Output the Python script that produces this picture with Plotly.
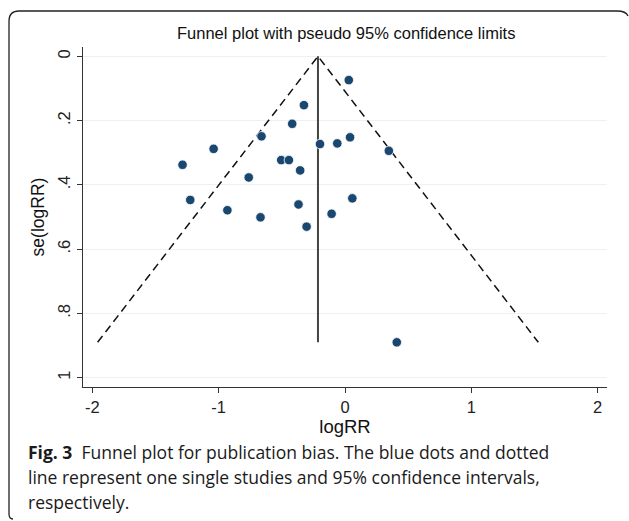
import plotly.graph_objects as go

# Study estimates
log_rr = [0.03, -0.325, -0.418, -0.661, -1.04, -1.286, -0.198, -0.061, 0.04, 0.347,
          -0.505, -0.444, -0.355, -0.762, -1.225, -0.931, -0.669, -0.368, -0.304,
          -0.106, 0.058, 0.41]
se_log_rr = [0.074, 0.152, 0.21, 0.249, 0.288, 0.3375, 0.273, 0.271, 0.252, 0.294,
             0.323, 0.323, 0.355, 0.377, 0.447, 0.479, 0.501, 0.461, 0.530,
             0.490, 0.442, 0.89]
pooled_logrr = -0.214
se_max = 0.89
z95 = 1.96

x_ticks = [-2, -1, 0, 1, 2]
x_ticklabels = ["-2", "-1", "0", "1", "2"]
y_ticks = [0, 0.2, 0.4, 0.6, 0.8, 1]
y_ticklabels = ["0", ".2", ".4", ".6", ".8", "1"]

W, H = 629, 521
ML, MR, MT, MB = 83, 22, 47, 134
PW, PH = W - ML - MR, H - MT - MB


def px(x):
    return (x - ML) / PW


def py(y):
    return (H - MB - y) / PH


navy = "#1a476f"
sans = "Liberation Sans, Arial, sans-serif"
fig = go.Figure()

# pseudo 95% confidence limits
fig.add_trace(go.Scatter(
    x=[pooled_logrr - z95 * se_max, pooled_logrr, pooled_logrr + z95 * se_max],
    y=[se_max, 0, se_max], mode="lines",
    line=dict(color="#111111", width=1.5, dash="8px,5px"), hoverinfo="skip"))
# pooled estimate line
fig.add_trace(go.Scatter(
    x=[pooled_logrr, pooled_logrr], y=[0, se_max], mode="lines",
    line=dict(color="#444444", width=2), hoverinfo="skip"))
# studies
fig.add_trace(go.Scatter(
    x=log_rr, y=se_log_rr, mode="markers",
    marker=dict(color=navy, size=9.5, line=dict(color="white", width=0.8))))

axis_font = dict(family=sans, size=16.5, color="#222222")
fig.update_layout(
    width=W, height=H, margin=dict(l=ML, r=MR, t=MT, b=MB),
    paper_bgcolor="white", plot_bgcolor="white", showlegend=False,
    font=dict(family=sans, color="#111111"),
    xaxis=dict(range=[-2.074, 2.074], tickvals=x_ticks, ticktext=x_ticklabels,
               showgrid=False, zeroline=False, showline=True, linecolor="#333333",
               linewidth=1, ticks="outside", ticklen=5, tickcolor="#333333",
               tickfont=axis_font,
               title=dict(text="logRR", font=dict(family=sans, size=18.5, color="#111111"),
                          standoff=1)),
    yaxis=dict(range=[1.029, -0.029], tickvals=y_ticks, ticktext=y_ticklabels,
               showgrid=True, gridcolor="#eaf2f3", gridwidth=1.2, zeroline=False,
               showline=True, linecolor="#333333", linewidth=1, ticks="outside",
               ticklen=5, tickcolor="#333333", tickangle=-90, tickfont=axis_font,
               title=dict(text="se(logRR)", font=dict(family=sans, size=17.5, color="#111111"),
                          standoff=6)),
)

fig.add_annotation(text="Funnel plot with pseudo 95% confidence limits",
                   xref="paper", yref="paper", x=px(346), y=py(33),
                   xanchor="center", yanchor="middle", showarrow=False,
                   font=dict(size=16.5, color="#111111", family=sans))

cap_font = dict(family="Open Sans, Noto Sans, sans-serif", size=17.5, color="#1a1a1a")
caption_lines = [
    "<b>Fig. 3</b>  Funnel plot for publication bias. The blue dots and dotted",
    "line represent one single studies and 95% confidence intervals,",
    "respectively.",
]
for i, line in enumerate(caption_lines):
    fig.add_annotation(text=line, xref="paper", yref="paper",
                       x=px(26), y=py(452 + 25 * i), xanchor="left", yanchor="middle",
                       showarrow=False, font=cap_font)

# rounded frame
path = (f"M {px(13)},{py(519)} Q {px(9)},{py(519)} {px(9)},{py(514)} "
        f"L {px(9)},{py(21)} Q {px(9)},{py(11)} {px(19)},{py(11)} "
        f"L {px(617)},{py(11)} Q {px(626)},{py(11)} {px(628)},{py(16)}")
fig.add_shape(type="path", path=path, xref="paper", yref="paper",
              line=dict(color="#222222", width=1.3), layer="above")

fig.write_html("out.html")
